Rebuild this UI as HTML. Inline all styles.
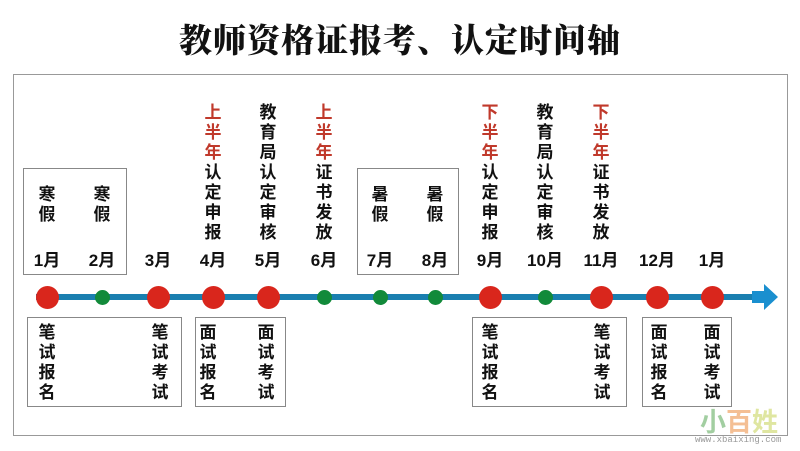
<!DOCTYPE html>
<html><head><meta charset="utf-8"><style>
html,body{margin:0;padding:0;background:#fff;}
body{width:800px;height:451px;position:relative;overflow:hidden;font-family:"Liberation Sans","Noto Sans CJK SC",sans-serif;}
.a{position:absolute;}
.title{left:0;width:800px;top:15px;text-align:center;font-family:"Noto Serif CJK SC",serif;font-weight:900;font-size:33px;color:#111;letter-spacing:1px;}
.box{position:absolute;border:1.5px solid #888;box-sizing:border-box;}
.col{position:absolute;width:20px;margin-left:-10px;font-size:17px;font-weight:bold;line-height:20px;text-align:center;color:#111;}
.r{color:#c0392b;}
.m{position:absolute;width:50px;margin-left:-25px;text-align:center;font-size:17px;font-weight:bold;top:246px;color:#111;}
.dot{position:absolute;border-radius:50%;}
.big{width:23px;height:23px;margin:-11.5px 0 0 -11.5px;background:#d9261c;top:297px;}
.sm{width:15px;height:15px;margin:-7.5px 0 0 -7.5px;background:#128a3a;top:297px;}
</style></head><body>
<div class="a title">教师资格证报考、认定时间轴</div>
<div class="box" style="left:13px;top:74px;width:775px;height:362px;border-color:#999"></div>
<div class="box" style="left:23px;top:168px;width:104px;height:107px"></div>
<div class="box" style="left:357px;top:168px;width:102px;height:107px"></div>
<div class="box" style="left:27px;top:317px;width:155px;height:90px"></div>
<div class="box" style="left:195px;top:317px;width:91px;height:90px"></div>
<div class="box" style="left:472px;top:317px;width:155px;height:90px"></div>
<div class="box" style="left:642px;top:317px;width:90px;height:90px"></div>

<div class="col" style="left:47px;top:185px">寒<br>假</div>
<div class="col" style="left:102px;top:185px">寒<br>假</div>
<div class="col" style="left:380px;top:185px">暑<br>假</div>
<div class="col" style="left:435px;top:185px">暑<br>假</div>
<div class="col" style="left:213px;top:103px"><span class="r">上<br>半<br>年</span><br>认<br>定<br>申<br>报</div>
<div class="col" style="left:268px;top:103px">教<br>育<br>局<br>认<br>定<br>审<br>核</div>
<div class="col" style="left:324px;top:103px"><span class="r">上<br>半<br>年</span><br>证<br>书<br>发<br>放</div>
<div class="col" style="left:490px;top:103px"><span class="r">下<br>半<br>年</span><br>认<br>定<br>申<br>报</div>
<div class="col" style="left:545px;top:103px">教<br>育<br>局<br>认<br>定<br>审<br>核</div>
<div class="col" style="left:601px;top:103px"><span class="r">下<br>半<br>年</span><br>证<br>书<br>发<br>放</div>

<div class="m" style="left:47px">1月</div><div class="m" style="left:102px">2月</div>
<div class="m" style="left:158px">3月</div><div class="m" style="left:213px">4月</div>
<div class="m" style="left:268px">5月</div><div class="m" style="left:324px">6月</div>
<div class="m" style="left:380px">7月</div><div class="m" style="left:435px">8月</div>
<div class="m" style="left:490px">9月</div><div class="m" style="left:545px">10月</div>
<div class="m" style="left:601px">11月</div><div class="m" style="left:657px">12月</div>
<div class="m" style="left:712px">1月</div>

<div class="a" style="left:36px;top:294px;width:722px;height:6px;background:#1a7fb0"></div>
<svg class="a" style="left:750px;top:283px" width="30" height="28"><polygon points="2,8 14,8 14,1 28,14 14,27 14,20 2,20" fill="#1a8fcf"/></svg>

<div class="dot big" style="left:47px"></div><div class="dot sm" style="left:102px"></div>
<div class="dot big" style="left:158px"></div><div class="dot big" style="left:213px"></div>
<div class="dot big" style="left:268px"></div><div class="dot sm" style="left:324px"></div>
<div class="dot sm" style="left:380px"></div><div class="dot sm" style="left:435px"></div>
<div class="dot big" style="left:490px"></div><div class="dot sm" style="left:545px"></div>
<div class="dot big" style="left:601px"></div><div class="dot big" style="left:657px"></div>
<div class="dot big" style="left:712px"></div>

<div class="col" style="left:47px;top:323px">笔<br>试<br>报<br>名</div>
<div class="col" style="left:160px;top:323px">笔<br>试<br>考<br>试</div>
<div class="col" style="left:208px;top:323px">面<br>试<br>报<br>名</div>
<div class="col" style="left:266px;top:323px">面<br>试<br>考<br>试</div>
<div class="col" style="left:490px;top:323px">笔<br>试<br>报<br>名</div>
<div class="col" style="left:602px;top:323px">笔<br>试<br>考<br>试</div>
<div class="col" style="left:659px;top:323px">面<br>试<br>报<br>名</div>
<div class="col" style="left:712px;top:323px">面<br>试<br>考<br>试</div>

<div class="a" style="left:700px;top:402px;font-size:26px;font-weight:bold;color:#8cc38a;opacity:.8">小<span style="color:#f2b07a">百</span><span style="color:#d8e08a">姓</span></div>
<div class="a" style="left:695px;top:435px;font-size:9px;font-family:'Liberation Mono',monospace;color:#999">www.xbaixing.com</div>
</body></html>
